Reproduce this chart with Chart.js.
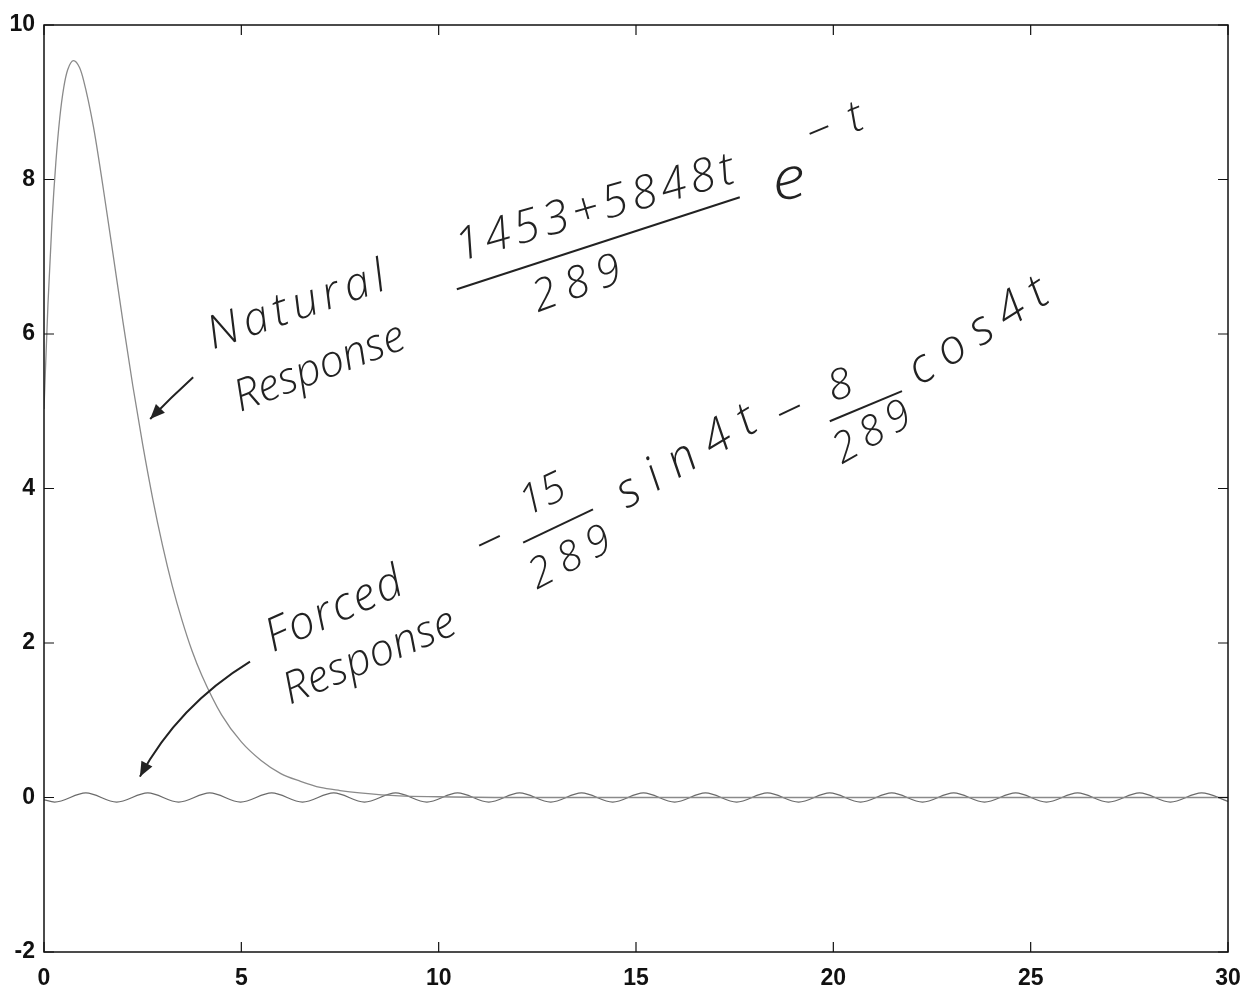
<!DOCTYPE html>
<html>
<head>
<meta charset="utf-8">
<script src="https://cdn.jsdelivr.net/npm/chart.js@4.4.0/dist/chart.umd.min.js"></script>
<style>
  body { margin: 0; background: #fff; }
  canvas { display: block; }
</style>
</head>
<body>
<canvas id="respChart" width="1255" height="1000"></canvas>
<script>
// natural response
const natT = [0, 0.1, 0.2, 0.3, 0.4, 0.5, 0.6, 0.75, 0.9, 1.0, 1.25, 1.5, 1.75, 2.0, 2.25, 2.5, 2.75, 3.0, 3.25, 3.5, 3.75, 4.0, 4.5, 5.0, 5.5, 6.0, 6.5, 7.0, 7.5, 8.0, 9.0, 10, 12, 15, 20, 25, 30];
const natY = [5.03, 6.38, 7.43, 8.22, 8.80, 9.19, 9.42, 9.54, 9.45, 9.29, 8.69, 7.89, 7.03, 6.16, 5.33, 4.57, 3.88, 3.27, 2.74, 2.29, 1.90, 1.58, 1.07, 0.72, 0.48, 0.31, 0.21, 0.13, 0.09, 0.06, 0.02, 0.01, 0, 0, 0, 0, 0];

// forced response: the small wiggle, peaks and troughs
const forcedT = [0, 0.27, 1.06, 1.84, 2.63, 3.41, 4.20, 4.98, 5.77, 6.55, 7.34, 8.12, 8.91, 9.70, 10.48, 11.27, 12.05, 12.84, 13.62, 14.41, 15.19, 15.98, 16.76, 17.55, 18.33, 19.12, 19.91, 20.69, 21.48, 22.26, 23.05, 23.83, 24.62, 25.40, 26.19, 26.97, 27.76, 28.54, 29.33, 30];
const forcedY = [-0.03, -0.059, 0.059, -0.059, 0.059, -0.059, 0.059, -0.059, 0.059, -0.059, 0.059, -0.059, 0.059, -0.059, 0.059, -0.059, 0.059, -0.059, 0.059, -0.059, 0.059, -0.059, 0.059, -0.059, 0.059, -0.059, 0.059, -0.059, 0.059, -0.059, 0.059, -0.059, 0.059, -0.059, 0.059, -0.059, 0.059, -0.059, 0.059, -0.05];

const xTicks = [0, 5, 10, 15, 20, 25, 30];
const yTicks = [-2, 0, 2, 4, 6, 8, 10];

// handwritten notes (position in data units, angle in degrees, width in px)
const notes = [
  { text: 'Natural', t: 4.28, v: 5.80, angle: -19, size: 46, width: 186 },
  { text: 'Response', t: 4.97, v: 4.99, angle: -21, size: 44, width: 180 },
  { text: '1453+5848t', t: 10.54, v: 6.94, angle: -16, size: 46, width: 288 },
  { text: '289', t: 12.52, v: 6.28, angle: -20, size: 44, width: 92 },
  { text: 'e', t: 18.52, v: 7.72, angle: -10, size: 58, width: 34 },
  { text: '−t', t: 19.48, v: 8.39, angle: -22, size: 44, width: 58 },
  { text: 'Forced', t: 5.80, v: 1.88, angle: -24, size: 46, width: 146 },
  { text: 'Response', t: 6.23, v: 1.20, angle: -23, size: 44, width: 184 },
  { text: '−', t: 11.12, v: 3.06, angle: -25, size: 44, width: 28 },
  { text: '15', t: 12.24, v: 3.64, angle: -25, size: 42, width: 46 },
  { text: '289', t: 12.49, v: 2.69, angle: -28, size: 42, width: 88 },
  { text: 'sin4t', t: 14.77, v: 3.73, angle: -31, size: 48, width: 156 },
  { text: '−', t: 18.72, v: 4.75, angle: -25, size: 44, width: 28 },
  { text: '8', t: 19.99, v: 5.12, angle: -20, size: 42, width: 24 },
  { text: '289', t: 20.22, v: 4.31, angle: -30, size: 42, width: 84 },
  { text: 'cos4t', t: 22.19, v: 5.32, angle: -33, size: 48, width: 158 }
];
const bars = [
  [[10.46, 6.58], [17.63, 7.77]],
  [[12.14, 3.30], [13.91, 3.73]],
  [[19.91, 4.87], [21.74, 5.26]]
];
const arrows = [
  { from: [3.78, 5.44], ctrl: [3.2, 5.17], to: [2.69, 4.90] },
  { from: [5.22, 1.76], ctrl: [3.40, 1.19], to: [2.43, 0.27] }
];

const natData = natT.map((t, i) => ({ x: t, y: natY[i] }));
const forcedData = forcedT.map((t, i) => ({ x: t, y: forcedY[i] }));

// box with inward ticks, matlab style
const boxPlugin = {
  id: 'box',
  afterDraw(chart) {
    const { ctx, chartArea: a, scales } = chart;
    ctx.save();
    ctx.strokeStyle = '#111';
    ctx.lineWidth = 1.5;
    ctx.strokeRect(a.left, a.top, a.right - a.left, a.bottom - a.top);
    ctx.lineWidth = 1.2;
    ctx.beginPath();
    xTicks.forEach(v => {
      const px = scales.x.getPixelForValue(v);
      ctx.moveTo(px, a.bottom); ctx.lineTo(px, a.bottom - 10);
      ctx.moveTo(px, a.top); ctx.lineTo(px, a.top + 10);
    });
    yTicks.forEach(v => {
      const py = scales.y.getPixelForValue(v);
      ctx.moveTo(a.left, py); ctx.lineTo(a.left + 10, py);
      ctx.moveTo(a.right, py); ctx.lineTo(a.right - 10, py);
    });
    ctx.stroke();
    ctx.restore();
  }
};

// the notes are spread with letter spacing so strokes stay thin
const notesPlugin = {
  id: 'notes',
  afterDraw(chart) {
    const { ctx, scales } = chart;
    const px = p => [scales.x.getPixelForValue(p[0]), scales.y.getPixelForValue(p[1])];
    ctx.save();
    ctx.fillStyle = '#222';
    ctx.strokeStyle = '#222';
    ctx.textBaseline = 'alphabetic';
    notes.forEach(n => {
      const [x, y] = px([n.t, n.v]);
      ctx.save();
      ctx.translate(x, y);
      ctx.rotate(n.angle * Math.PI / 180);
      ctx.font = 'italic 300 ' + n.size + 'px "Open Sans", "DejaVu Sans", sans-serif';
      ctx.letterSpacing = '0px';
      const w = ctx.measureText(n.text).width;
      const gap = n.text.length > 1 ? (n.width - w) / (n.text.length - 1) : 0;
      if (gap > 0) {
        ctx.letterSpacing = gap.toFixed(1) + 'px';
      } else {
        ctx.scale(n.width / w, 1);
      }
      ctx.fillText(n.text, 0, 0);
      ctx.restore();
    });
    ctx.lineWidth = 2;
    bars.forEach(b => {
      const p0 = px(b[0]), p1 = px(b[1]);
      ctx.beginPath(); ctx.moveTo(p0[0], p0[1]); ctx.lineTo(p1[0], p1[1]); ctx.stroke();
    });
    arrows.forEach(ar => {
      const p0 = px(ar.from), c = px(ar.ctrl), p1 = px(ar.to);
      ctx.beginPath();
      ctx.moveTo(p0[0], p0[1]);
      ctx.quadraticCurveTo(c[0], c[1], p1[0], p1[1]);
      ctx.stroke();
      const ang = Math.atan2(p1[1] - c[1], p1[0] - c[0]);
      ctx.beginPath();
      ctx.moveTo(p1[0], p1[1]);
      ctx.lineTo(p1[0] - 16 * Math.cos(ang - 0.4), p1[1] - 16 * Math.sin(ang - 0.4));
      ctx.lineTo(p1[0] - 16 * Math.cos(ang + 0.4), p1[1] - 16 * Math.sin(ang + 0.4));
      ctx.closePath();
      ctx.fill();
    });
    ctx.restore();
  }
};

const tickFont = { family: '"Liberation Sans", Arial, sans-serif', size: 23, weight: 'bold' };

new Chart(document.getElementById('respChart').getContext('2d'), {
  type: 'line',
  data: {
    datasets: [
      {
        label: 'Natural Response',
        data: natData,
        borderColor: '#8a8a8a',
        borderWidth: 1.3,
        pointRadius: 0,
        cubicInterpolationMode: 'monotone'
      },
      {
        label: 'Forced Response',
        data: forcedData,
        borderColor: '#6a6a6a',
        borderWidth: 1.3,
        pointRadius: 0,
        cubicInterpolationMode: 'monotone'
      }
    ]
  },
  options: {
    responsive: false,
    animation: false,
    devicePixelRatio: 1,
    layout: { padding: { top: 25, right: 27, left: 0, bottom: 0 } },
    plugins: { legend: { display: false }, tooltip: { enabled: false } },
    scales: {
      x: {
        type: 'linear',
        min: 0, max: 30,
        afterBuildTicks: s => { s.ticks = xTicks.map(v => ({ value: v })); },
        afterFit: s => { s.height = 48; },
        grid: { display: false, drawTicks: false },
        border: { display: false },
        ticks: { color: '#111', font: tickFont, padding: 13, maxRotation: 0 }
      },
      y: {
        min: -2, max: 10,
        afterBuildTicks: s => { s.ticks = yTicks.map(v => ({ value: v })); },
        afterFit: s => { s.width = 44; },
        grid: { display: false, drawTicks: false },
        border: { display: false },
        ticks: { color: '#111', font: tickFont, padding: 9 }
      }
    }
  },
  plugins: [boxPlugin, notesPlugin]
});
</script>
</body>
</html>
